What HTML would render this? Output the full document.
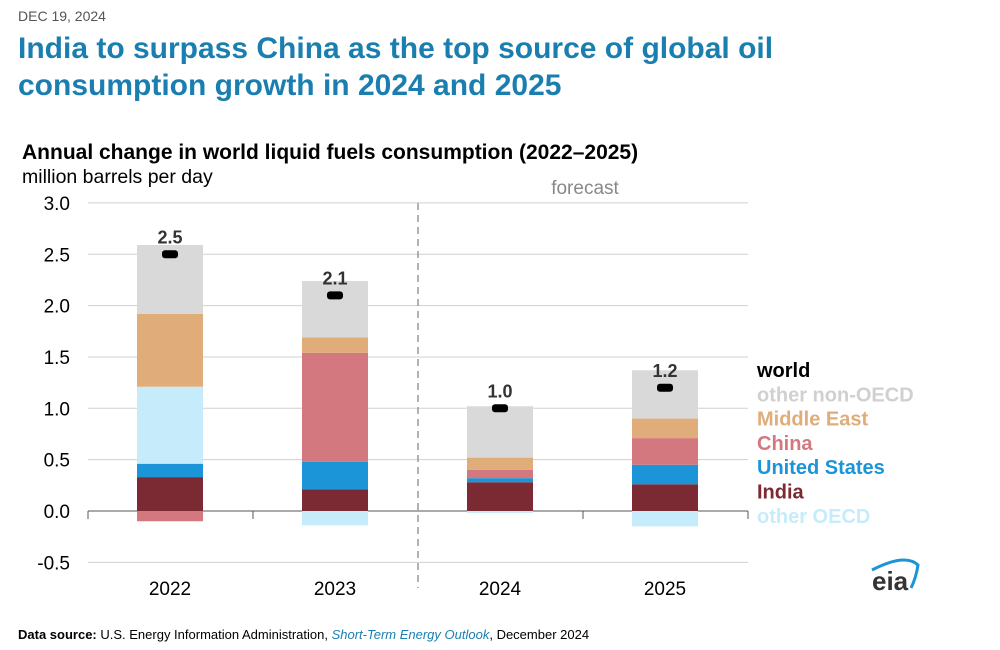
<!DOCTYPE html>
<html><head><meta charset="utf-8"><style>
body{margin:0;width:1000px;height:650px;background:#fff;font-family:"Liberation Sans",sans-serif;position:relative;overflow:hidden}
.a{position:absolute;white-space:nowrap}
</style></head><body>
<div class="a" style="left:18px;top:8px;font-size:14px;color:#555">DEC 19, 2024</div>
<div class="a" style="left:18px;top:30px;font-size:30px;font-weight:bold;color:#1a7fb0;line-height:37px">India to surpass China as the top source of global oil<br>consumption growth in 2024 and 2025</div>
<div class="a" style="left:22px;top:141px;font-size:21px;font-weight:bold;color:#000">Annual change in world liquid fuels consumption (2022–2025)</div>
<div class="a" style="left:22px;top:166px;font-size:19.5px;color:#000">million barrels per day</div>
<svg class="a" style="left:0;top:0" width="1000" height="650" id="c"></svg>
<div class="a" style="left:18px;top:627px;font-size:13px;color:#000"><b>Data source:</b> U.S. Energy Information Administration, <i style="color:#1a7fb0">Short-Term Energy Outlook</i>, December 2024</div>
<script>
const years=["2022","2023","2024","2025"];
const india=[0.33,0.21,0.28,0.26];
const us=[0.13,0.27,0.04,0.19];
const china=[-0.10,1.06,0.08,0.26];
const otherOECD=[0.75,-0.14,-0.02,-0.15];
const middleEast=[0.71,0.15,0.12,0.19];
const otherNonOECD=[0.67,0.55,0.50,0.47];
const world=[2.5,2.1,1.0,1.2];
const worldLabels=["2.5","2.1","1.0","1.2"];
const yTicks=[3.0,2.5,2.0,1.5,1.0,0.5,0.0,-0.5];
const NS="http://www.w3.org/2000/svg",svg=document.getElementById('c');
const y=v=>511-v*102.7, xc=i=>170+i*165, bw=66;
function el(t,a,p){const e=document.createElementNS(NS,t);for(const k in a)e.setAttribute(k,a[k]);(p||svg).appendChild(e);return e;}
yTicks.forEach(v=>{
 const g=el('line',{x1:88,x2:748,y1:y(v),y2:y(v),stroke:v==0?'#555':'#d0d0d0','stroke-width':1});
 
 
 const t=el('text',{x:70,y:y(v)+7,'text-anchor':'end','font-size':19,fill:'#000'});t.textContent=v.toFixed(1);
 
 
});
[88,253,583,748].forEach(x=>el('line',{x1:x,x2:x,y1:511,y2:519,stroke:'#555'}));
const dv=el('line',{x1:418,x2:418,y1:203,y2:588,stroke:'#999','stroke-dasharray':'7,5','stroke-width':1.5});


const ft=el('text',{x:585,y:194,'text-anchor':'middle','font-size':19,fill:'#888'});ft.textContent='forecast';


const ser=[["india",india,"#7b2a33"],["united-states",us,"#1c94d8"],["other-oecd",otherOECD,"#c6ecfc"],["china",china,"#d4787f"],["middle-east",middleEast,"#e0ad7a"],["other-non-oecd",otherNonOECD,"#d9d9d9"]];
years.forEach((yr,i)=>{
 let pos=0,neg=0;
 ser.forEach(([n,arr,c])=>{const v=arr[i];let a,b;if(v>=0){a=pos;b=pos+v;pos=b;}else{a=neg;b=neg+v;neg=b;}
  const r=el('rect',{x:xc(i)-bw/2,y:y(Math.max(a,b)),width:bw,height:Math.abs(y(a)-y(b)),fill:c});
  
  });
 const m=el('rect',{x:xc(i)-8,y:y(world[i])-4,width:16,height:8,rx:3,fill:'#000'});
 
 
 const wl=el('text',{x:xc(i),y:y(world[i])-11,'text-anchor':'middle','font-size':18,'font-weight':'bold',fill:'#333'});wl.textContent=worldLabels[i];
 
 
 const xl=el('text',{x:xc(i),y:595,'text-anchor':'middle','font-size':19,fill:'#000'});xl.textContent=yr;
 
 
});
const leg=[["world","#000"],["other non-OECD","#d0d0d0"],["Middle East","#e0ad7a"],["China","#d4787f"],["United States","#1c94d8"],["India","#7b2a33"],["other OECD","#c6ecfc"]];
leg.forEach(([n,c],k)=>{const t=el('text',{x:757,y:377+k*24.3,'font-size':20,'font-weight':'bold',fill:c});t.textContent=n;
 
 });
const arc=el('path',{d:'M872 570 Q905 553 918 565 Q916 578 911 588',fill:'none',stroke:'#1c94d8','stroke-width':3});


const lg=el('text',{x:872,y:590,'font-size':26,'font-weight':'bold',fill:'#333'});lg.textContent='eia';


</script>
</body></html>
